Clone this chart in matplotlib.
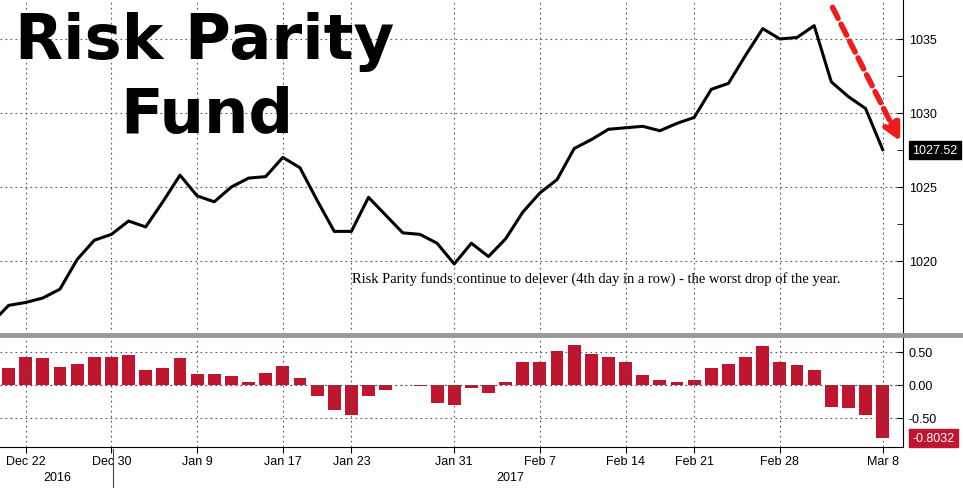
import matplotlib
matplotlib.use('Agg')
import matplotlib.pyplot as plt
import numpy as np

# Risk parity fund index (daily close), Dec 21 2016 .. Mar 8 2017 (trading days)
index_values = [1017.0, 1017.2, 1017.5, 1018.1, 1020.1, 1021.4, 1021.8, 1022.7, 1022.3, 1024.0,
                1025.8, 1024.4, 1024.0, 1025.0, 1025.6, 1025.7, 1027.0, 1026.3, 1024.1, 1022.0,
                1022.0, 1024.3, 1023.1, 1021.9, 1021.8, 1021.2, 1019.8, 1021.2, 1020.3, 1021.5,
                1023.3, 1024.6, 1025.5, 1027.6, 1028.2, 1028.9, 1029.0, 1029.1, 1028.8, 1029.3,
                1029.7, 1031.6, 1032.0, 1033.9, 1035.7, 1035.0, 1035.1, 1035.9, 1032.1, 1031.1,
                1030.3, 1027.52]
first_value = 1015.8  # Dec 20, partly off the left edge

daily_change = [0.26, 0.43, 0.41, 0.27, 0.32, 0.43, 0.43, 0.45, 0.22, 0.26,
                0.40, 0.17, 0.17, 0.13, 0.05, 0.18, 0.29, 0.11, -0.17, -0.38,
                -0.46, -0.17, -0.08, 0.005, -0.02, -0.28, -0.31, -0.05, -0.13, 0.05,
                0.35, 0.35, 0.51, 0.60, 0.47, 0.43, 0.35, 0.15, 0.08, 0.05,
                0.08, 0.25, 0.32, 0.43, 0.59, 0.34, 0.30, 0.23, -0.34, -0.35,
                -0.45, -0.8032]

tick_pos = [1, 6, 11, 16, 20, 26, 31, 36, 40, 45, 51]
tick_labels = ['Dec 22', 'Dec 30', 'Jan 9', 'Jan 17', 'Jan 23', 'Jan 31',
               'Feb 7', 'Feb 14', 'Feb 21', 'Feb 28', 'Mar 8']

x = np.arange(len(index_values))
font = 'Liberation Sans'

fig = plt.figure(figsize=(9.63, 4.89), dpi=100)
ax1 = fig.add_axes([0.0, 0.315, 0.938, 0.685])
ax2 = fig.add_axes([0.0, 0.084, 0.938, 0.225])

xl = (-0.5, 52.2)

# --- top: index line ---
ax1.plot(np.concatenate([[-1], x]), [first_value] + index_values, color='black', lw=2.2)
ax1.set_xlim(*xl)
ax1.set_ylim(1015.07, 1037.7)
ax1.set_yticks([1020, 1025, 1030, 1035])
ax1.set_yticks([1017.5, 1022.5, 1027.5, 1032.5], minor=True)
ax1.yaxis.tick_right()
ax1.set_xticks(tick_pos)
ax1.tick_params(axis='x', length=0, labelbottom=False)
ax1.tick_params(axis='y', which='both', direction='in', length=4, pad=4, labelsize=9)
for lab in ax1.get_yticklabels():
    lab.set_family(font)
ax1.grid(True, which='major', linestyle=(0, (1.5, 3)), color='#555555', lw=0.8)
for s in ['top', 'left', 'bottom']:
    ax1.spines[s].set_visible(False)

# title, two lines placed separately
fig.text(205 / 963, 1 - 42 / 489, 'Risk Parity', ha='center', va='center',
         fontsize=45, fontweight='bold', family='DejaVu Sans')
fig.text(207 / 963, 1 - 116 / 489, 'Fund', ha='center', va='center',
         fontsize=45, fontweight='bold', family='DejaVu Sans')

ax1.text(0.39, 0.155, 'Risk Parity funds continue to delever (4th day in a row) - the worst drop of the year.',
         transform=ax1.transAxes, fontsize=10.5, family='Liberation Serif')
ax1.annotate('', xy=(52.1, 1027.9), xytext=(48.0, 1037.3),
             arrowprops=dict(arrowstyle='-|>,head_width=0.5,head_length=1.0', color='#ee1c1c',
                             lw=4, linestyle=(0, (2.2, 1.2))), annotation_clip=False)
ax1.text(1.01, 1027.52, '1027.52', transform=ax1.get_yaxis_transform(), va='center', ha='left',
         fontsize=9, color='white', family=font,
         bbox=dict(boxstyle='square,pad=0.25', fc='black', ec='black'))

# --- bottom: daily change bars ---
ax2.bar(x, daily_change, width=0.75, color='#c0152f')
ax2.axhline(0, color='#555555', lw=0.8, linestyle=(0, (1.5, 3)))
ax2.set_xlim(*xl)
ax2.set_ylim(-0.94, 0.727)
ax2.set_yticks([0.5, 0.0, -0.5])
ax2.set_yticklabels(['0.50', '0.00', '-0.50'])
ax2.yaxis.tick_right()
ax2.set_xticks(tick_pos)
ax2.set_xticklabels(tick_labels)
ax2.tick_params(axis='x', length=4, direction='out', labelsize=9, pad=2)
ax2.tick_params(axis='y', direction='in', length=4, pad=4, labelsize=9)
for lab in ax2.get_xticklabels() + ax2.get_yticklabels():
    lab.set_family(font)
ax2.grid(True, linestyle=(0, (1.5, 3)), color='#555555', lw=0.8)
for s in ['top', 'left']:
    ax2.spines[s].set_visible(False)
ax2.text(1.01, -0.8032, '-0.8032', transform=ax2.get_yaxis_transform(), va='center', ha='left',
         fontsize=9, color='white', family=font,
         bbox=dict(boxstyle='square,pad=0.25', fc='#c0152f', ec='#c0152f'))

# year labels and separator
fig.text(57 / 963, 1 - 478 / 489, '2016', ha='center', va='center', fontsize=9, family=font)
fig.text(510 / 963, 1 - 478 / 489, '2017', ha='center', va='center', fontsize=9, family=font)
fig.add_artist(plt.Line2D([113 / 963, 113 / 963], [1 - 489 / 489, 1 - 450 / 489],
                          color='#444444', lw=0.8))
# grey separator between panels
fig.add_artist(plt.Line2D([0, 1], [1 - 336 / 489, 1 - 336 / 489], color='#999999', lw=3.5))

fig.savefig('out.png', dpi=100)
